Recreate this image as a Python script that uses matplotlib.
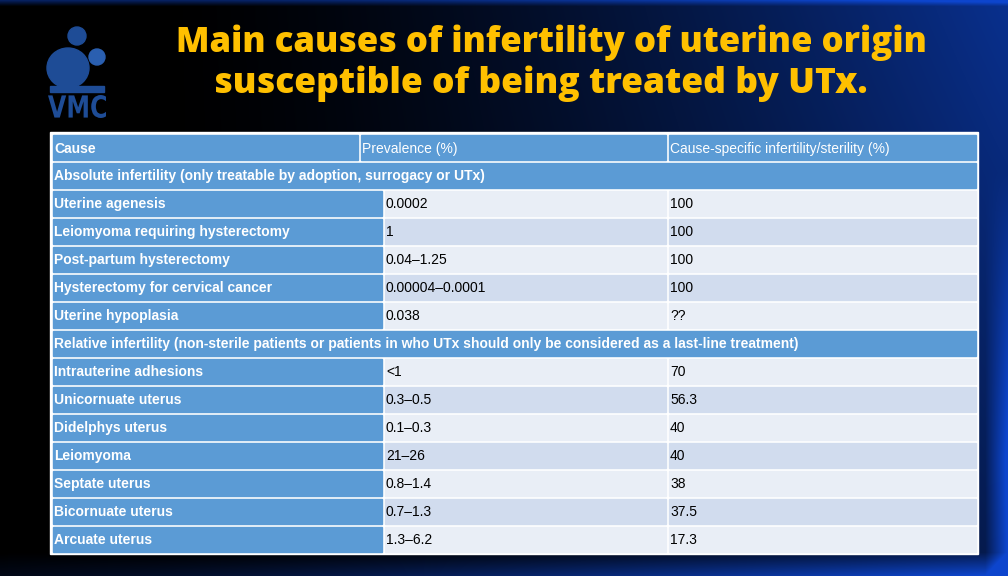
import numpy as np
import matplotlib
matplotlib.use('Agg')
import matplotlib.pyplot as plt
from matplotlib.patches import Rectangle, Circle, Ellipse, PathPatch
from matplotlib.textpath import TextPath
from matplotlib.font_manager import FontProperties
from matplotlib.transforms import Affine2D

# Table content
header = ['Cause', 'Prevalence (%)', 'Cause-specific infertility/sterility (%)']
section_absolute = 'Absolute infertility (only treatable by adoption, surrogacy or UTx)'
causes_absolute = ['Uterine agenesis', 'Leiomyoma requiring hysterectomy', 'Post-partum hysterectomy',
                   'Hysterectomy for cervical cancer', 'Uterine hypoplasia']
prevalence_absolute = ['0.0002', '1', '0.04–1.25', '0.00004–0.0001', '0.038']
specific_absolute = ['100', '100', '100', '100', '??']
section_relative = ('Relative infertility (non-sterile patients or patients in who UTx should only be '
                    'considered as a last-line treatment)')
causes_relative = ['Intrauterine adhesions', 'Unicornuate uterus', 'Didelphys uterus', 'Leiomyoma',
                   'Septate uterus', 'Bicornuate uterus', 'Arcuate uterus']
prevalence_relative = ['<1', '0.3–0.5', '0.1–0.3', '21–26', '0.8–1.4', '0.7–1.3', '1.3–6.2']
specific_relative = ['70', '56.3', '40', '40', '38', '37.5', '17.3']

title_lines = ['Main causes of infertility of uterine origin', 'susceptible of being treated by UTx.']

# Colours
cell_blue = '#5b9bd5'
row_light = '#e9eef6'
row_dark = '#d1dcee'
title_color = '#ffc000'

W, H = 1008, 576
fig = plt.figure(figsize=(10.08, 5.76), dpi=100)
ax = fig.add_axes([0, 0, 1, 1])
ax.set_xlim(0, W)
ax.set_ylim(H, 0)
ax.axis('off')

# Background: black on the left fading into blue on the right and at the bottom
xs = np.linspace(0, 1, W)
ys = np.linspace(0, 1, H)
gx, gy = np.meshgrid(xs, ys)
t = np.clip((gx - 0.15) / 0.85, 0, 1) ** 1.5
t = t * (1 - 0.45 * gy)
bottom = np.clip((gy - 0.96) / 0.04, 0, 1)
top = np.clip((0.01 - gy) / 0.01, 0, 1)
right = np.clip((gx - 0.978) / 0.022, 0, 1) * np.clip((gy - 0.3) / 0.5, 0, 1)
t = np.clip(t * 0.9 + 0.7 * bottom * (0.2 + gx) + 0.6 * top + 0.8 * right, 0, 1.3)
bg = np.zeros((H, W, 3))
bg[..., 0] = 0.04 * t
bg[..., 1] = 0.21 * t
bg[..., 2] = 0.62 * t
bg = np.clip(bg, 0, 1)
ax.imshow(bg, extent=[0, W, H, 0], aspect='auto', zorder=0)

# Logo
logo_blue = '#1e4c96'
ax.add_patch(Circle((77, 36), 9, color=logo_blue, zorder=2))
ax.add_patch(Ellipse((68, 68), 42, 40, color=logo_blue, zorder=2))
ax.add_patch(Circle((97, 57), 8, color='#2a5fb0', zorder=3))
ax.add_patch(Rectangle((50, 86), 54, 6, color=logo_blue, zorder=2))
vmc = TextPath((0, 0), 'VMC', size=10, prop=FontProperties(family='DejaVu Sans', weight='bold'))
ext = vmc.get_extents()
vmc = Affine2D().translate(-ext.x0, -ext.y0).scale(58 / ext.width, -23 / ext.height).translate(48, 118).transform_path(vmc)
ax.add_patch(PathPatch(vmc, color=logo_blue, lw=0, zorder=3))

# Title
ax.text(551, 52, title_lines[0], color=title_color, fontsize=25, fontweight=800,
        family='Open Sans', ha='center', va='baseline', zorder=3)
ax.text(541, 93, title_lines[1], color=title_color, fontsize=25.5, fontweight=800,
        family='Open Sans', ha='center', va='baseline', zorder=3)

# Table geometry
x0, x1 = 51, 977
y0 = 133
rh = 28
col_head = [51, 359, 667, 977]
col_data = [51, 383, 667, 977]
gap = 1.5
font = 'Liberation Sans'
fs = 10

ax.add_patch(Rectangle((x0 - 1, y0 - 1), x1 - x0 + 2, rh * 15 + 2, color='white', zorder=1))


def cell(xa, xb, row, color):
    ya = y0 + row * rh
    ax.add_patch(Rectangle((xa + gap, ya + gap), xb - xa - 2 * gap, rh - 2 * gap,
                           color=color, zorder=2))


def label(x, row, s, color, bold=False, dy=1):
    ax.text(x + 3, y0 + row * rh + rh / 2 + dy, s, color=color, fontsize=fs, family=font,
            fontweight='bold' if bold else 'normal', ha='left', va='center', zorder=3)


# header row
for i, h in enumerate(header):
    cell(col_head[i], col_head[i + 1], 0, cell_blue)
    label(col_head[i], 0, h, 'white', bold=(i == 0), dy=2)

row = 1
for section, causes, prev, spec in [(section_absolute, causes_absolute, prevalence_absolute, specific_absolute),
                                    (section_relative, causes_relative, prevalence_relative, specific_relative)]:
    cell(x0, x1, row, cell_blue)
    label(x0, row, section, 'white', bold=True)
    row += 1
    for k in range(len(causes)):
        shade = row_light if k % 2 == 0 else row_dark
        cell(col_data[0], col_data[1], row, cell_blue)
        cell(col_data[1], col_data[2], row, shade)
        cell(col_data[2], col_data[3], row, shade)
        label(col_data[0], row, causes[k], 'white', bold=True)
        label(col_data[1], row, prev[k], 'black')
        label(col_data[2], row, spec[k], 'black')
        row += 1

fig.savefig('out.png', dpi=100)
